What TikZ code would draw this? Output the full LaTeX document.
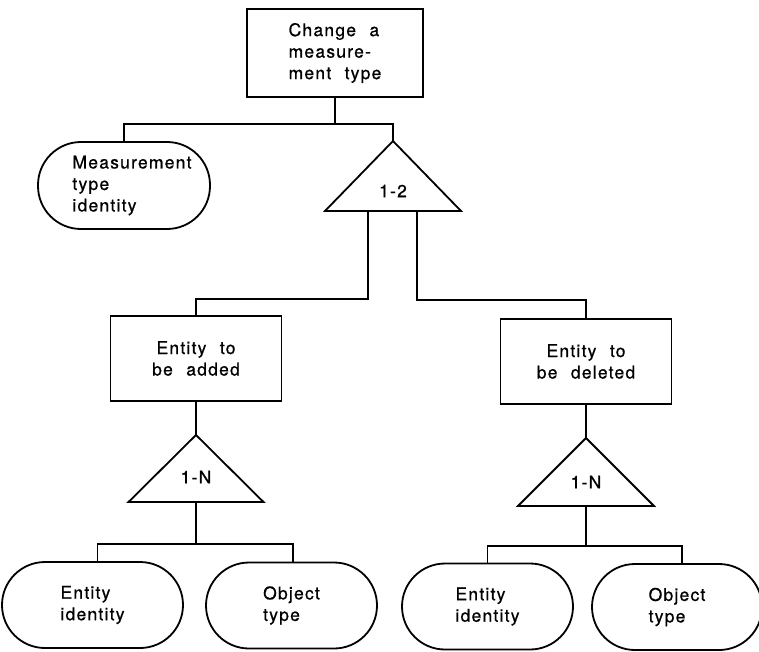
\documentclass[tikz,border=0pt]{standalone}
\usepackage{fontspec}
\setmainfont{TeX Gyre Heros}[LetterSpace=7, WordSpace=2.2, FakeBold=0.7]
\usetikzlibrary{calc}
\begin{document}
\begin{tikzpicture}[x=1pt,y=-1pt, line width=1.8pt,
  every node/.style={font=\fontsize{17.5}{21.5}\selectfont, inner sep=0pt},
  box/.style={draw, rectangle, align=center},
  oval/.style={draw, rectangle, rounded corners=43pt, minimum height=86pt, align=left}]
\useasboundingbox (0,0) rectangle (759,651);

% nodes
\node[box, minimum width=176pt, minimum height=88pt, align=left] (top) at (335,53) {Change a\\measure-\\ment type};
\node[oval, minimum width=172pt, minimum height=87pt] (mti) at (124,185.5) {\hspace*{16pt}Measurement\\\hspace*{16pt}type\\\hspace*{16pt}identity};

\coordinate (t1) at (393,141);
\coordinate (t1l) at (325,211);
\coordinate (t1r) at (461,211);
\draw[line join=miter] (t1) -- (t1l) -- (t1r) -- cycle;
\node (n12) at (393,191) {1-2};
\coordinate (t1a) at (368,211);
\coordinate (t1b) at (417,211);

\node[box, minimum width=171pt, minimum height=85pt] (add) at (196,358.5) {Entity to\\be added};
\node[box, minimum width=171pt, minimum height=85pt] (del) at (586,361.5) {Entity to\\be deleted};

\coordinate (t2) at (196,435);
\coordinate (t2l) at (128.5,502);
\coordinate (t2r) at (263.5,502);
\draw[line join=miter] (t2) -- (t2l) -- (t2r) -- cycle;
\node (n1na) at (196,477) {1-N};
\coordinate (t2b) at (196,502);

\coordinate (t3) at (586,438);
\coordinate (t3l) at (518,506);
\coordinate (t3r) at (654,506);
\draw[line join=miter] (t3) -- (t3l) -- (t3r) -- cycle;
\node (n1nb) at (586,482) {1-N};
\coordinate (t3b) at (586,506);

\node[oval, minimum width=181pt] (ll) at (92.5,605) {Entity\\identity};
\node[oval, minimum width=171pt] (lr) at (291.5,605.5) {Object\\type};
\node[oval, minimum width=171pt] (rl) at (487.5,606.5) {Entity\\identity};
\node[oval, minimum width=170pt] (rr) at (677,607) {Object\\type};

% junction levels
\coordinate (j0) at (0,124);
\coordinate (j1) at (0,299);
\coordinate (j2) at (0,300);
\coordinate (j3) at (0,544);
\coordinate (j4) at (0,546);

% connectors
\draw (top.south) -- (top.south |- j0);
\draw (mti.north) -- (mti.north |- j0) -- (t1 |- j0) -- (t1);
\draw (t1a) -- (t1a |- j1) -- (add.north |- j1) -- (add.north);
\draw (t1b) -- (t1b |- j2) -- (del.north |- j2) -- (del.north);
\draw (add.south) -- (t2);
\draw (del.south) -- (t3);
\draw (t2b) -- (t2b |- j3);
\draw ([xshift=5pt]ll.north) -- ([xshift=5pt]ll.north |- j3) -- ([xshift=1.5pt]lr.north |- j3) -- ([xshift=1.5pt]lr.north);
\draw (t3b) -- (t3b |- j4);
\draw (rl.north) -- (rl.north |- j4) -- ([xshift=5pt]rr.north |- j4) -- ([xshift=5pt]rr.north);
\end{tikzpicture}
\end{document}
